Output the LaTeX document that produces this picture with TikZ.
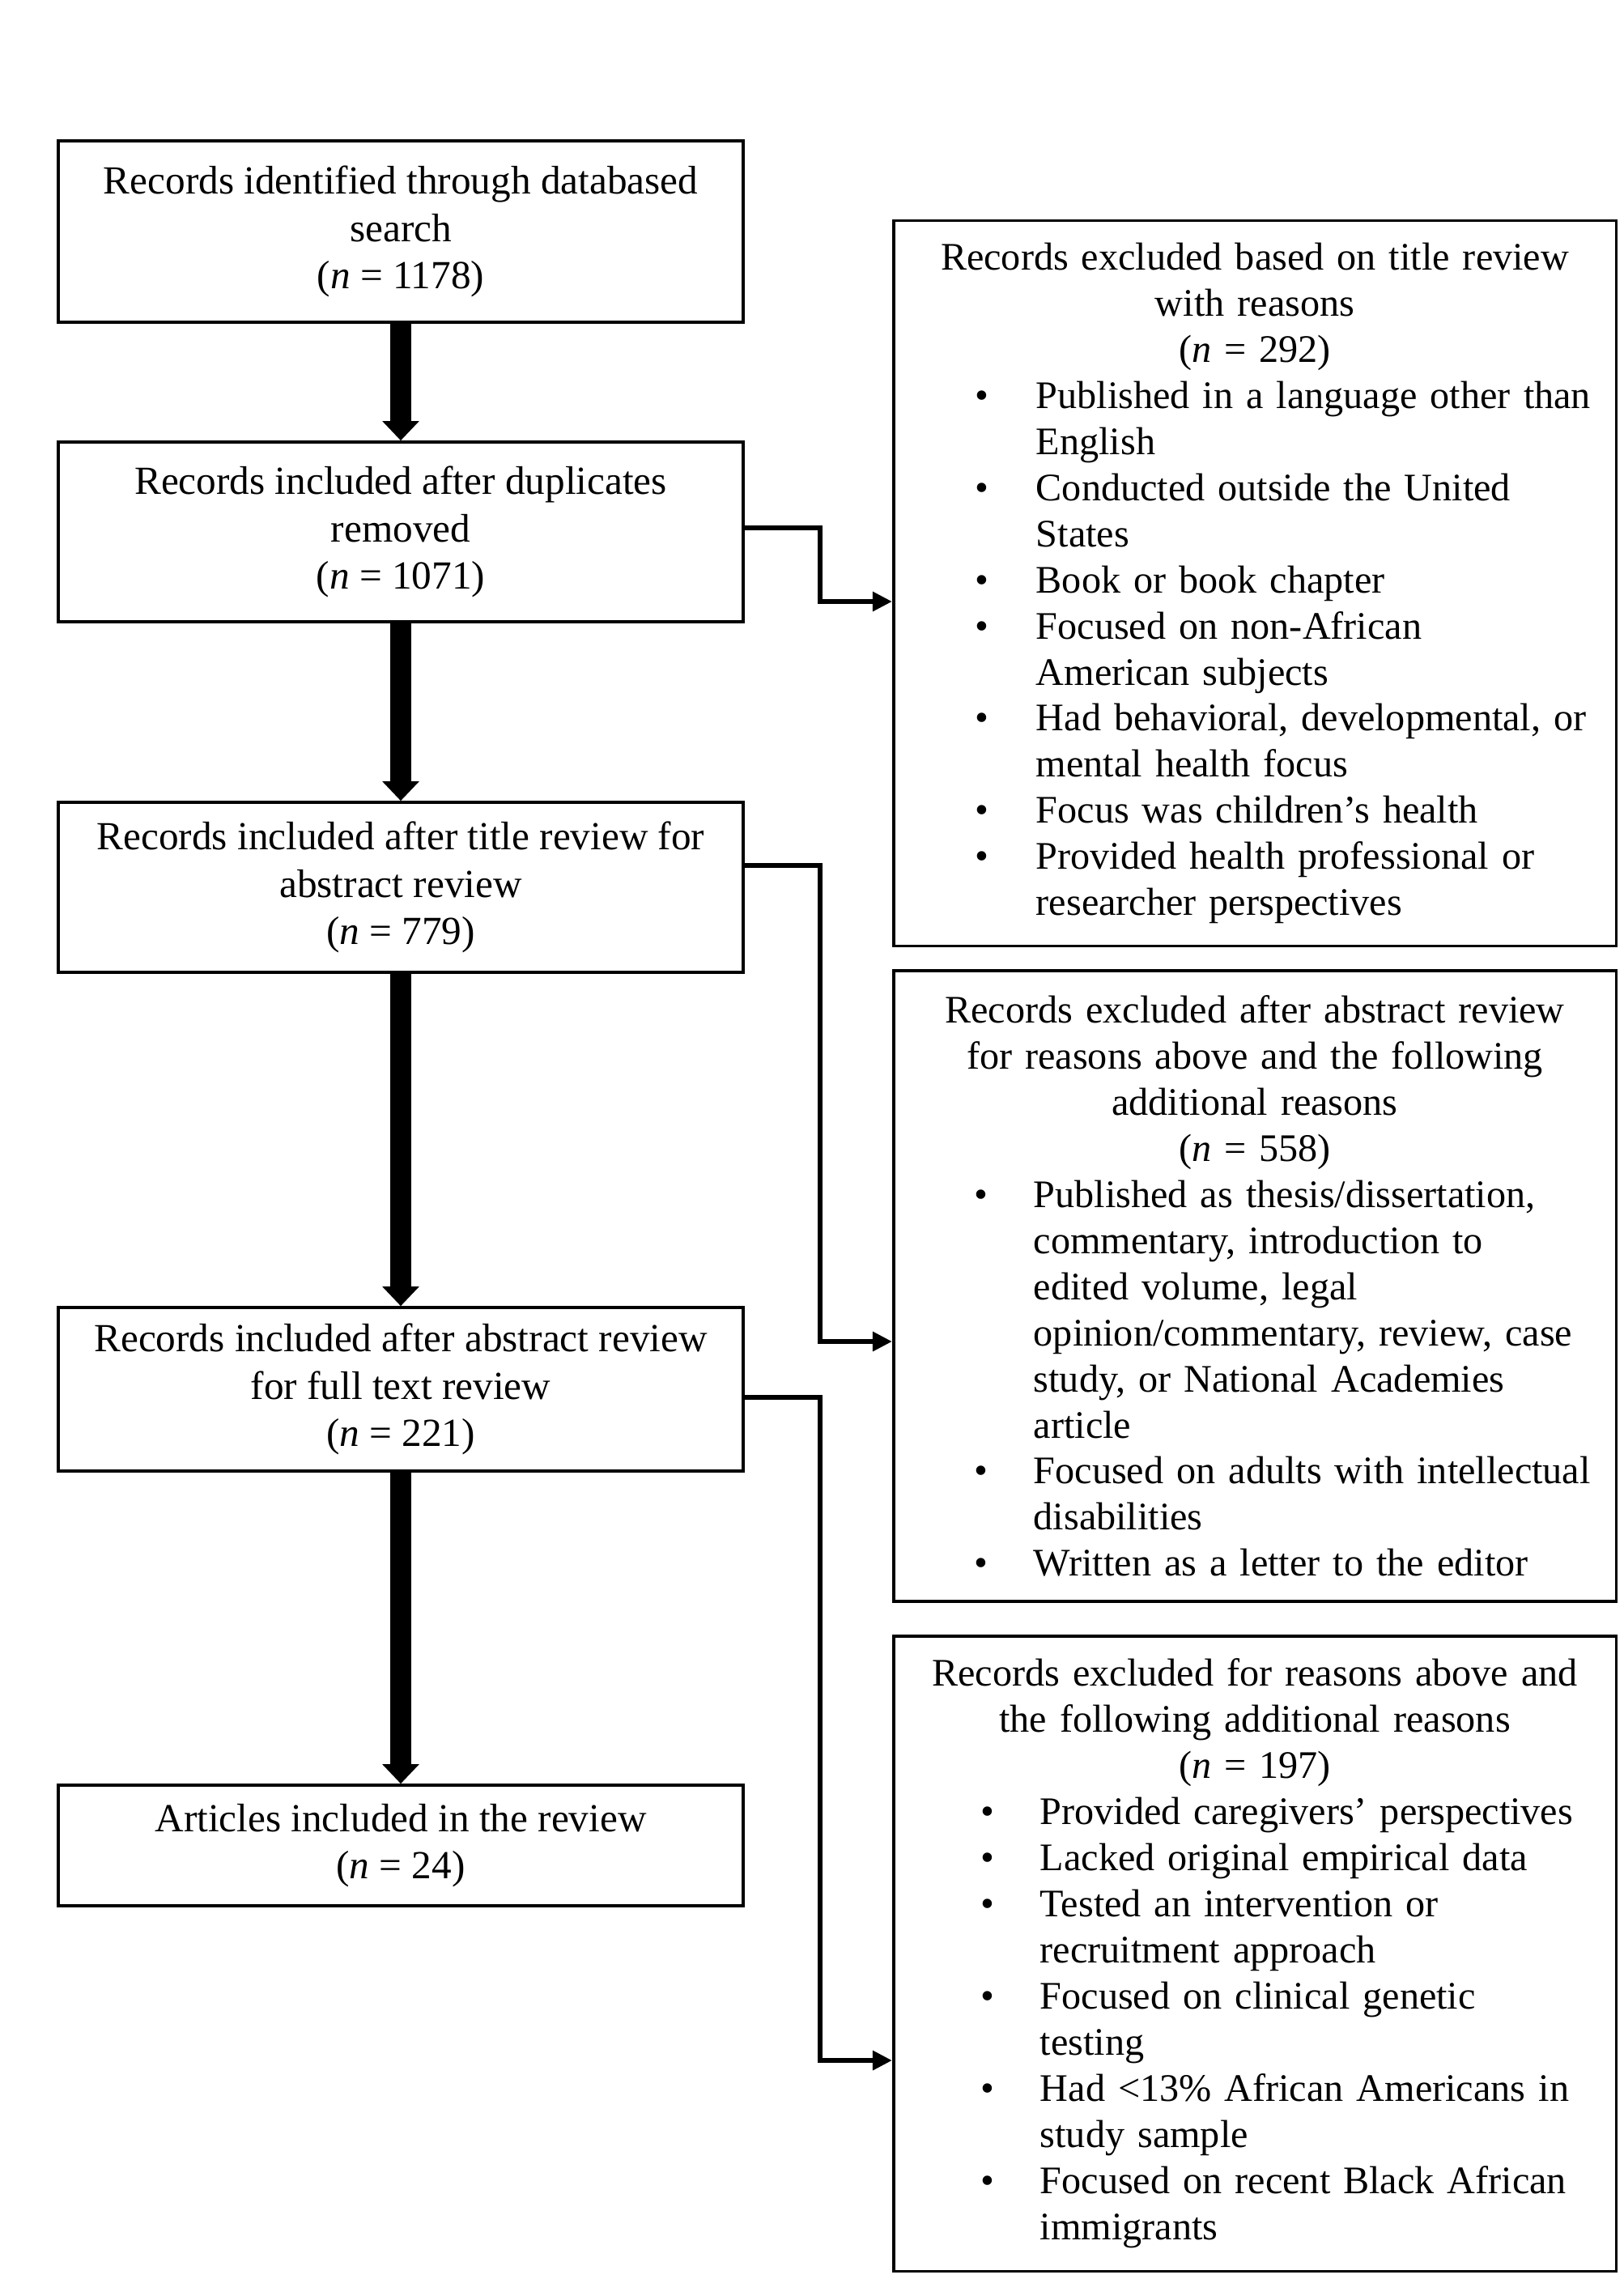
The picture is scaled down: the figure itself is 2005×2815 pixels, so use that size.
\documentclass[tikz,border=0pt]{standalone}
\usepackage{fontspec}
\setmainfont{Liberation Serif}
\usetikzlibrary{arrows.meta}
\newlength{\myhang}
\newcommand{\mynl}{\hfil\break}
\newcommand{\bul}[1]{\par\hangindent=\myhang\hangafter=1\noindent\makebox[\myhang][l]{\textbullet}#1}
\tikzset{
  boxfont/.style={font=\fontsize{13.7}{16.2}\selectfont},
  lbox/.style={draw, line width=1pt, font=\fontsize{14}{16.7}\selectfont, align=center, minimum width=8.46cm, inner sep=0pt},
  rbox/.style={draw, line width=1pt, boxfont, text width=8.92cm, minimum width=8.92cm, inner sep=0pt},
  bigarrow/.style={line width=0.25cm, -{Triangle[width=0.44cm,length=0.24cm]}},
  conn/.style={line width=0.067cm, -{Triangle[width=0.23cm,length=0.24cm]}}
}
\begin{document}
\begin{tikzpicture}[x=0.01cm, y=-0.01cm]
\useasboundingbox (0,0) rectangle (2005,2815);
\fill[white] (0,0) rectangle (2005,2815);

% left column
\node[lbox, minimum height=2.24cm] (b1) at (495,286)
  {Records identified through databased\\ search\\ (\textit{n} = 1178)};
\node[lbox, minimum height=2.22cm] (b2) at (495,657)
  {Records included after duplicates\\ removed\\ (\textit{n} = 1071)};
\node[lbox, minimum height=2.10cm] (b3) at (495,1096)
  {Records included after title review for\\ abstract review\\ (\textit{n} = 779)};
\node[lbox, minimum height=2.02cm] (b4) at (495,1716)
  {Records included after abstract review\\ for full text review\\ (\textit{n} = 221)};
\node[lbox, minimum height=1.49cm] (b5) at (495,2279.5)
  {Articles included in the review\\ (\textit{n} = 24)};

% right column
\node[rbox, minimum height=8.95cm] (r1) at (1550,720.5) {%
  {\centering Records excluded based on title review\\ with reasons\\ (\textit{n} = 292)\par}%
  \myhang=0.75cm\leftskip=1.01cm
  \bul{Published in a language other than\mynl English}
  \bul{Conducted outside the United\mynl States}
  \bul{Book or book chapter}
  \bul{Focused on non-African\mynl American subjects}
  \bul{Had behavioral, developmental, or\mynl mental health focus}
  \bul{Focus was children’s health}
  \bul{Provided health professional or\mynl researcher perspectives}\par};

\node[rbox, minimum height=7.79cm] (r2) at (1550,1588.5) {%
  {\centering Records excluded after abstract review\\ for reasons above and the following\\ additional reasons\\ (\textit{n} = 558)\par}%
  \myhang=0.73cm\leftskip=1.00cm
  \bul{Published as thesis/dissertation,\mynl commentary, introduction to\mynl edited volume, legal\mynl opinion/commentary, review, case\mynl study, or National Academies\mynl article}
  \bul{Focused on adults with intellectual\mynl disabilities}
  \bul{Written as a letter to the editor}\par};

\node[rbox, minimum height=7.84cm] (r3) at (1550,2413) {%
  {\centering Records excluded for reasons above and\\ the following additional reasons\\ (\textit{n} = 197)\par}%
  \myhang=0.73cm\leftskip=1.08cm
  \bul{Provided caregivers’ perspectives}
  \bul{Lacked original empirical data}
  \bul{Tested an intervention or\mynl recruitment approach}
  \bul{Focused on clinical genetic\mynl testing}
  \bul{Had <13\% African Americans in\mynl study sample}
  \bul{Focused on recent Black African\mynl immigrants}\par};

% main flow arrows
\draw[bigarrow] (b1.south) -- (b2.north);
\draw[bigarrow] (b2.south) -- (b3.north);
\draw[bigarrow] (b3.south) -- (b4.north);
\draw[bigarrow] (b4.south) -- (b5.north);

% exclusion connectors
\coordinate (j1) at (1013,652);
\coordinate (k1) at (1013,743);
\coordinate (j2) at (1013,1069);
\coordinate (k2) at (1013,1657);
\coordinate (j3) at (1013,1726);
\coordinate (k3) at (1013,2545);
\draw[conn] (b2.east |- j1) -- (j1) -- (k1) -- (r1.west |- k1);
\draw[conn] (b3.east |- j2) -- (j2) -- (k2) -- (r2.west |- k2);
\draw[conn] (b4.east |- j3) -- (j3) -- (k3) -- (r3.west |- k3);
\end{tikzpicture}
\end{document}
